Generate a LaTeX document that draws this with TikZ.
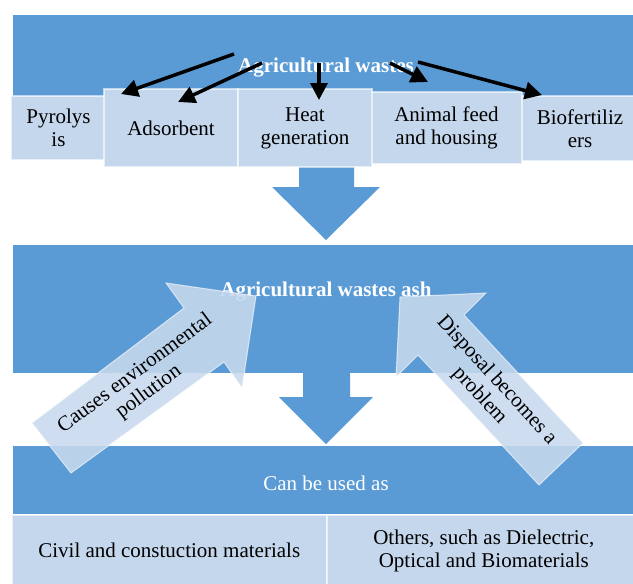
\documentclass[tikz,border=0pt]{standalone}
\usepackage{fontspec}
\setmainfont{Liberation Serif}
\usetikzlibrary{arrows.meta}
\definecolor{bandblue}{HTML}{5B9BD5}
\definecolor{lite}{HTML}{C5D7EC}
\definecolor{arrlite}{HTML}{C8D9EE}
\begin{document}
\begin{tikzpicture}[x=1pt,y=-1pt,
 bandbox/.style={fill=bandblue, draw=none, inner sep=0pt, anchor=north west},
 itembox/.style={fill=lite, draw=white, draw opacity=0.6, line width=1.5pt, align=center, inner sep=0pt, font=\fontsize{21}{23}\selectfont, text=black},
 titletext/.style={text=white, font=\fontsize{21}{23}\selectfont\bfseries},
 plaintext/.style={text=white, font=\fontsize{21}{23}\selectfont},
 blk/.style={line width=3.5pt, -{Triangle[length=17pt,width=17pt]}},
 bigarrow/.style={fill=arrlite, fill opacity=0.88, draw=white, draw opacity=0.6, line width=1pt},
 downarrow/.style={fill=bandblue, draw=none},
 arrtext/.style={align=center, text=black, font=\fontsize{21}{23}\selectfont}]
\useasboundingbox (0,0) rectangle (633,584);
\fill[white] (0,0) rectangle (633,584);

% bands
\node[bandbox, minimum width=620, minimum height=110] (band1) at (13,15) {};
\node[bandbox, minimum width=620, minimum height=128] (band2) at (13,245) {};
\node[bandbox, minimum width=620, minimum height=68] (band3) at (13,446) {};

% down arrows
\fill[downarrow] (299,160) -- (354,160) -- (354,187) -- (380,187) -- (326,240) -- (272,187) -- (299,187) -- cycle;
\fill[downarrow] (303,372) -- (350,372) -- (350,397) -- (373,397) -- (326,444) -- (279,397) -- (303,397) -- cycle;

% top items
\node[itembox, minimum width=95, minimum height=64] (pyro) at (58.5,128) {Pyrolys\\is};
\node[itembox, minimum width=118, minimum height=65] (biof) at (580,128.5) {Biofertiliz\\ers};
\node[itembox, minimum width=151, minimum height=72] (anim) at (446.5,128) {Animal feed\\and housing};
\node[itembox, minimum width=134, minimum height=78] (adso) at (171,128) {Adsorbent};
\node[itembox, minimum width=134, minimum height=78] (heat) at (305,128) {Heat\\generation};

% titles
\node[titletext] (t1) at (326,68) {Agricultural wastes};
\node[titletext] (t2) at (326,292) {Agricultural wastes ash};
\node[plaintext] (t3) at (326,483) {Can be used as};

% bottom items
\node[itembox, minimum width=315, minimum height=72, anchor=north west] (civil) at (11,514) {Civil and constuction materials};
\node[itembox, minimum width=314, minimum height=72, anchor=north west] (other) at (326,514) {Others, such as Dielectric,\\Optical and Biomaterials};

% black arrows
\coordinate (s1) at (234,54);  \coordinate (e1) at (121,94);
\coordinate (s2) at (262,63);  \coordinate (e2) at (178,102);
\coordinate (s3) at (319,63);  \coordinate (e3) at (319,100);
\coordinate (s4) at (390,63);  \coordinate (e4) at (428,82);
\coordinate (s5) at (418,62);  \coordinate (e5) at (542,95);
\draw[blk] (s1) -- (e1);
\draw[blk] (s2) -- (e2);
\draw[blk] (s3) -- (e3);
\draw[blk] (s4) -- (e4);
\draw[blk] (s5) -- (e5);

% big diagonal arrows
\path[bigarrow] (32,423) -- (184,308) -- (166,283) -- (256,296) -- (242,388) -- (224,362) -- (71,473) -- cycle;
\path[bigarrow] (583,443) -- (464,315) -- (486,293) -- (400,297) -- (396,377) -- (418,355) -- (539,485) -- cycle;
\node[arrtext, rotate=36.5] (l1) at (142,383) {Causes environmental\\pollution};
\node[arrtext, rotate=-47.5] (l2) at (488,388) {Disposal becomes a\\problem};
\end{tikzpicture}
\end{document}
